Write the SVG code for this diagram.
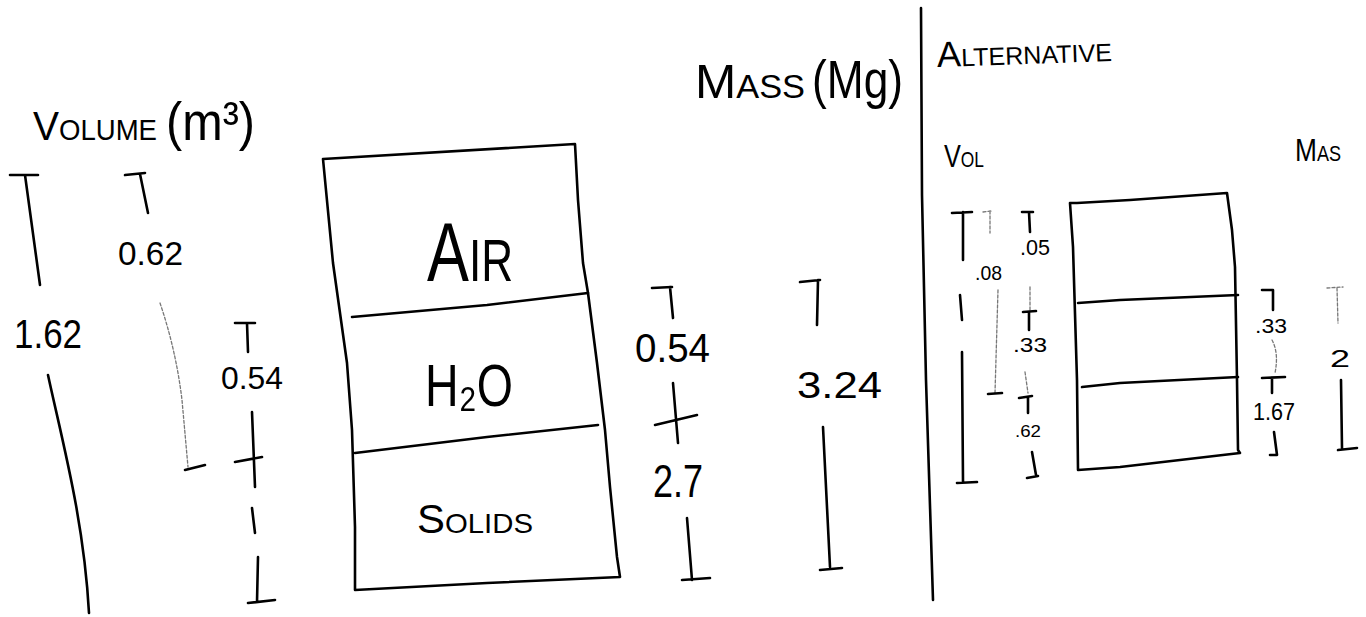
<svg xmlns="http://www.w3.org/2000/svg" width="1366" height="617" viewBox="0 0 1366 617">
<style>
.s{fill:none;stroke:#000;stroke-width:2.6;stroke-linecap:round;stroke-linejoin:round}
.f{fill:none;stroke:#777;stroke-width:1.3;stroke-linecap:round;stroke-dasharray:3 2}
.t{font-family:"Liberation Sans","DejaVu Sans",sans-serif;fill:#000}
.sc{font-variant:small-caps}
</style>
<rect width="1366" height="617" fill="#fff"/>
<g id="titles">
<text class="t sc" x="33" y="140" font-size="41" textLength="124" lengthAdjust="spacingAndGlyphs">Volume</text>
<text class="t" x="166" y="140" font-size="54" textLength="89" lengthAdjust="spacingAndGlyphs">(m³)</text>
<text class="t sc" x="695" y="98" font-size="49" textLength="110" lengthAdjust="spacingAndGlyphs">Mass</text>
<text class="t" x="812" y="98" font-size="54" textLength="91" lengthAdjust="spacingAndGlyphs">(Mg)</text>
<text class="t sc" x="937" y="64" font-size="36" textLength="175" lengthAdjust="spacingAndGlyphs" transform="rotate(-2 1025 55)">Alternative</text>
<text class="t sc" x="944" y="167" font-size="32" textLength="40" lengthAdjust="spacingAndGlyphs">Vol</text>
<text class="t sc" x="1295" y="161" font-size="32" textLength="46" lengthAdjust="spacingAndGlyphs">Mas</text>
</g>
<g id="divider">
<path class="s" d="M921,8 L922,195 L926,380 L933,600" stroke-width="2" stroke="#333"/>
</g>
<g id="main-box">
<path class="s" d="M323,159 L575,144 L578,200 L583,263 L588,293 L597,363 L605,430 L610,487 L617,557 L620,577 L487,583 L355,590 L355,527 L352,430 L347,363 L333,263 Z"/>
<path class="s" d="M352,317 L487,305 L588,293"/>
<path class="s" d="M355,453 L487,437 L598,425"/>
<text class="t sc" x="427" y="281" font-size="84" textLength="86" lengthAdjust="spacingAndGlyphs">Air</text>
<text class="t" x="425" y="406" font-size="60" textLength="88" lengthAdjust="spacingAndGlyphs">H₂O</text>
<text class="t sc" x="417" y="533" font-size="40" textLength="116" lengthAdjust="spacingAndGlyphs">Solids</text>
</g>
<g id="alt-box">
<path class="s" d="M1077,203 L1130,200 L1227,193 L1232,230 L1235,267 L1237,380 L1238,450 L1240,453 L1120,467 L1078,470 L1077,380 L1073,247 L1070,203 Z"/>
<path class="s" d="M1078,303 L1120,300 L1238,295" stroke-width="1.4"/>
<path class="s" d="M1082,387 L1120,383 L1238,377"/>
</g>
<g id="connectors">
<path class="s" d="M10,175 L38,175 M25,175 L40,285"/>
<path class="s" d="M48,375 C62,440 84,520 89,613"/>
<path class="s" d="M125,175 L145,173 M140,174 L148,213"/>
<path class="f" d="M160,303 Q176,350 182,400 L188,467"/>
<path class="s" d="M185,470 L205,465"/>
<path class="s" d="M235,323 L255,323 M247,323 L248,352"/>
<path class="s" d="M252,412 L255,487 M235,462 L262,457"/>
<path class="s" d="M252,508 L255,533"/>
<path class="s" d="M258,557 L257,602 M248,603 L275,600"/>
<path class="s" d="M652,288 L672,287 M670,287 L673,318"/>
<path class="s" d="M673,383 L678,443 M655,425 L697,415"/>
<path class="s" d="M687,518 L692,580 M682,580 L710,578"/>
<path class="s" d="M800,282 L820,280 M818,280 L817,325"/>
<path class="s" d="M823,427 L830,567 M820,570 L842,568"/>
<path class="s" d="M952,213 L972,212 M963,212 L963,260"/>
<path class="s" d="M960,295 L962,320"/>
<path class="s" d="M962,352 L963,482 M957,483 L977,482"/>
<path class="f" d="M983,212 L992,211 M990,211 L990,233"/>
<path class="f" d="M998,290 L995,393"/>
<path class="s" d="M988,394 L1002,393" stroke-width="1.6"/>
<path class="s" d="M1022,212 L1033,212 M1029,212 L1030,232" stroke-width="2"/>
<path class="f" d="M1030,287 L1030,310"/>
<path class="s" d="M1023,312 L1036,311 M1029,312 L1029,330" stroke-width="1.6"/>
<path class="f" d="M1025,372 L1028,393"/>
<path class="s" d="M1019,398 L1032,396 M1028,397 L1028,413"/>
<path class="s" d="M1032,452 L1036,475 M1027,478 L1038,476" stroke-width="2"/>
<path class="s" d="M1262,290 L1273,290 L1273,310" stroke-width="2"/>
<path class="f" d="M1272,340 Q1279,353 1275,373"/>
<path class="s" d="M1262,378 L1285,377 M1272,378 L1272,393"/>
<path class="s" d="M1274,432 L1277,455 L1270,455" stroke-width="2"/>
<path class="f" d="M1327,288 L1343,287 M1337,288 L1338,323" stroke="#444"/>
<path class="s" d="M1341,380 L1342,448 M1338,450 L1357,448"/>
</g>
<g id="dimension-labels">
<text class="t" x="14" y="348" font-size="40" textLength="68" lengthAdjust="spacingAndGlyphs">1.62</text>
<text class="t" x="118" y="265" font-size="33" textLength="65" lengthAdjust="spacingAndGlyphs" fill="#222">0.62</text>
<text class="t" x="221" y="389" font-size="32" textLength="62" lengthAdjust="spacingAndGlyphs">0.54</text>
<text class="t" x="635" y="362" font-size="40" textLength="75" lengthAdjust="spacingAndGlyphs">0.54</text>
<text class="t" x="653" y="497" font-size="46" textLength="50" lengthAdjust="spacingAndGlyphs">2.7</text>
<text class="t" x="797" y="398" font-size="36" textLength="85" lengthAdjust="spacingAndGlyphs">3.24</text>
<text class="t" x="975" y="280" font-size="20" textLength="27" lengthAdjust="spacingAndGlyphs">.08</text>
<text class="t" x="1020" y="255" font-size="22" textLength="30" lengthAdjust="spacingAndGlyphs">.05</text>
<text class="t" x="1013" y="352" font-size="21" textLength="34" lengthAdjust="spacingAndGlyphs">.33</text>
<text class="t" x="1015" y="437" font-size="17" textLength="26" lengthAdjust="spacingAndGlyphs">.62</text>
<text class="t" x="1255" y="333" font-size="21" textLength="32" lengthAdjust="spacingAndGlyphs">.33</text>
<text class="t" x="1253" y="420" font-size="24" textLength="42" lengthAdjust="spacingAndGlyphs">1.67</text>
<text class="t" x="1330" y="367" font-size="24" textLength="20" lengthAdjust="spacingAndGlyphs">2</text>
</g>
</svg>
